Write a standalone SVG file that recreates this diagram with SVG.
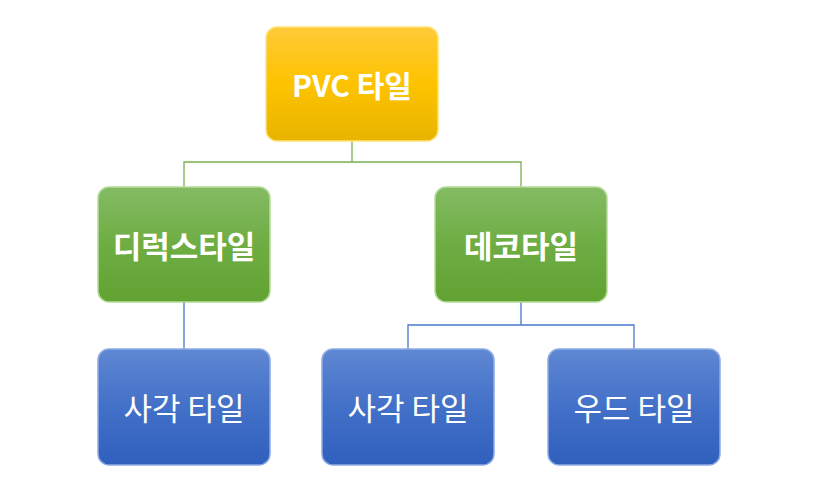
<svg xmlns="http://www.w3.org/2000/svg" width="818" height="494" viewBox="0 0 818 494">
<defs>
<linearGradient id="gGold" x1="0" y1="0" x2="0" y2="1"><stop offset="0" stop-color="#FFCA38"/><stop offset="0.5" stop-color="#FDC300"/><stop offset="1" stop-color="#E8B400"/></linearGradient>
<linearGradient id="gGreen" x1="0" y1="0" x2="0" y2="1"><stop offset="0" stop-color="#84BB64"/><stop offset="0.5" stop-color="#6EAD43"/><stop offset="1" stop-color="#62A232"/></linearGradient>
<linearGradient id="gBlue" x1="0" y1="0" x2="0" y2="1"><stop offset="0" stop-color="#5F88D3"/><stop offset="0.5" stop-color="#4370C8"/><stop offset="1" stop-color="#2F60BD"/></linearGradient>
<style>
.box{stroke-width:1.5}
.gold{fill:url(#gGold);stroke:#FFE27A}
.green{fill:url(#gGreen);stroke:#B5DC98}
.blue{fill:url(#gBlue);stroke:#8EACE6}
.t{fill:#fff;font-family:"Noto Sans CJK KR","Noto Sans",sans-serif;text-anchor:middle;dominant-baseline:central}
.b{font-weight:bold;font-size:30px}
.g{font-size:31px}
.r{font-size:31px}
.cg{stroke:#78B050;stroke-width:1.3;fill:none}
.cb{stroke:#4A78CC;stroke-width:1.3;fill:none}
</style>
</defs>
<g id="connectors">
<path class="cg" d="M352 141V162H184V187M352 162H521V187"/>
<path class="cb" d="M184 302V349"/>
<path class="cb" d="M521 302V325H408V349M521 325H634V349"/>
</g>
<g id="pvc"><rect class="box gold" x="266" y="27" width="172" height="114" rx="11"/><text class="t b" x="352" y="84">PVC 타일</text></g>
<g id="direx"><rect class="box green" x="98" y="187" width="172" height="115" rx="11"/><text class="t b g" x="184" y="244">디럭스타일</text></g>
<g id="deco"><rect class="box green" x="435" y="187" width="172" height="115" rx="11"/><text class="t b g" x="521" y="244">데코타일</text></g>
<g id="square1"><rect class="box blue" x="98" y="349" width="172" height="116" rx="11"/><text class="t r" x="184" y="406">사각 타일</text></g>
<g id="square2"><rect class="box blue" x="322" y="349" width="172" height="116" rx="11"/><text class="t r" x="408" y="406">사각 타일</text></g>
<g id="wood"><rect class="box blue" x="548" y="349" width="172" height="116" rx="11"/><text class="t r" x="634" y="406">우드 타일</text></g>
</svg>
